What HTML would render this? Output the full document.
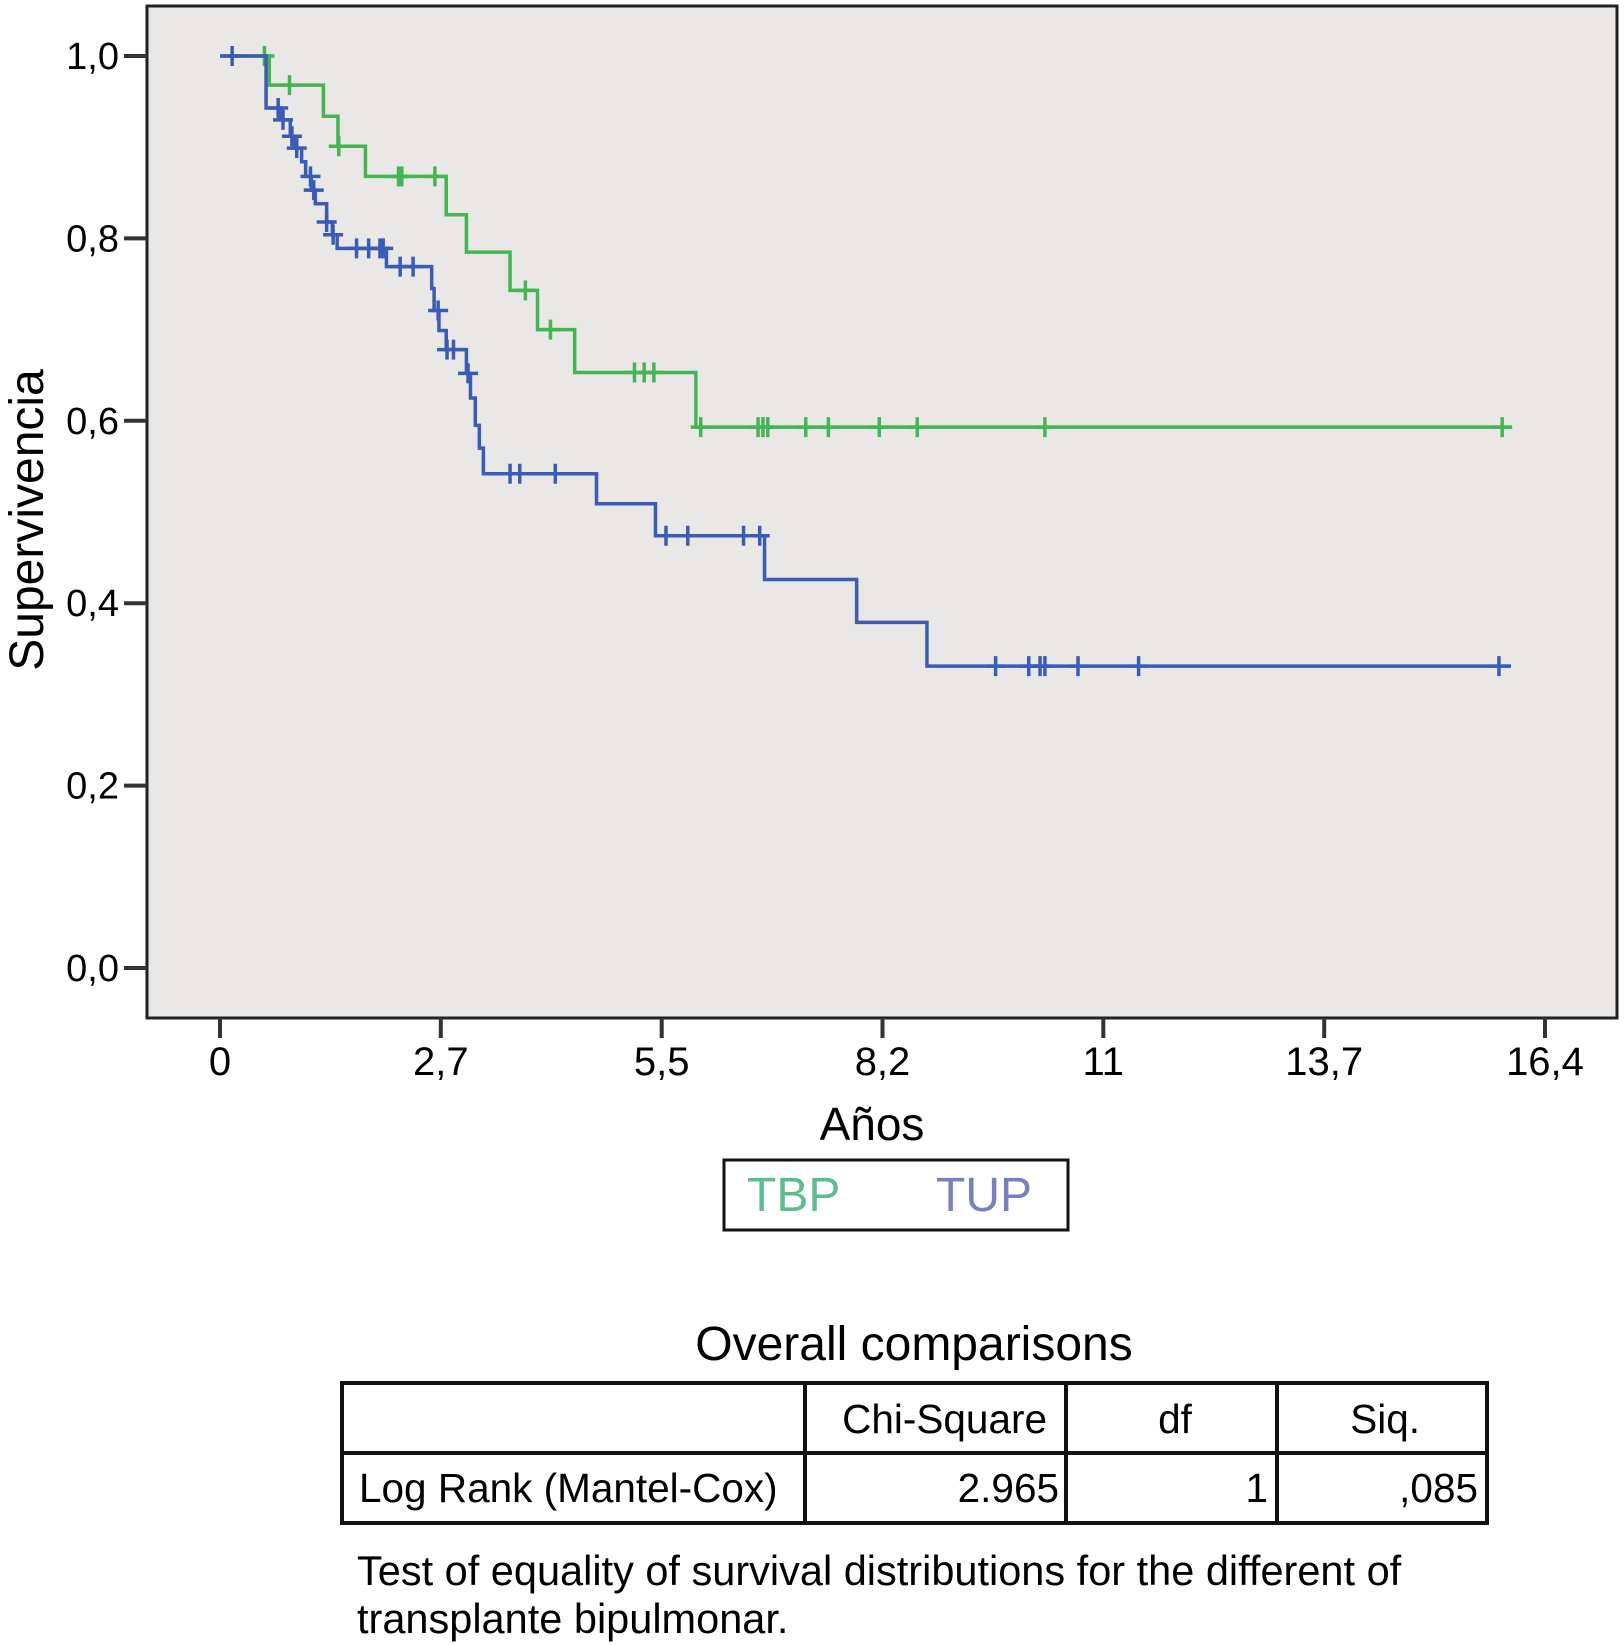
<!DOCTYPE html>
<html><head><meta charset="utf-8"><style>
html,body{margin:0;padding:0;background:#fff;}
svg{display:block;font-family:"Liberation Sans",Arial,sans-serif;}
</style></head><body>
<svg id="chart" width="1624" height="1645" viewBox="0 0 1624 1645">
<rect x="147" y="6" width="1470" height="1012" fill="#e9e8e6" stroke="#222" stroke-width="3"/>
<g id="axes"></g>
<g id="series"></g>
<text x="43" y="520" font-size="48" text-anchor="middle" transform="rotate(-90 43 520)" fill="#000">Supervivencia</text>
<text x="872" y="1140" font-size="46" text-anchor="middle" fill="#000">Años</text>
<rect x="724" y="1160" width="344" height="70" fill="#fff" stroke="#111" stroke-width="3"/>
<text x="747" y="1211" font-size="48" fill="#5dbd8f">TBP</text>
<text x="936" y="1211" font-size="48" fill="#7a80bb">TUP</text>
<text x="914" y="1360" font-size="48" text-anchor="middle" fill="#000">Overall comparisons</text>
<g stroke="#111" stroke-width="4" fill="none">
<rect x="342" y="1383" width="1145" height="140"/>
<line x1="342" y1="1453" x2="1487" y2="1453"/>
<line x1="805" y1="1383" x2="805" y2="1523"/>
<line x1="1066" y1="1383" x2="1066" y2="1523"/>
<line x1="1277" y1="1383" x2="1277" y2="1523"/>
</g>
<g font-size="40.5" fill="#000">
<text x="1047" y="1433" text-anchor="end">Chi-Square</text>
<text x="1175" y="1433" text-anchor="middle">df</text>
<text x="1420" y="1433" text-anchor="end">Siq.</text>
<text x="359" y="1502">Log Rank (Mantel-Cox)</text>
<text x="1059" y="1502" text-anchor="end">2.965</text>
<text x="1268" y="1502" text-anchor="end">1</text>
<text x="1478" y="1502" text-anchor="end">,085</text>
</g>
<g font-size="41.5" fill="#000">
<text x="357" y="1585">Test of equality of survival distributions for the different of</text>
<text x="357" y="1633">transplante bipulmonar.</text>
</g>
</svg>
<script>
const xTicks = [0, 2.733, 5.467, 8.2, 10.933, 13.667, 16.4];
const xTickLabels = ["0", "2,7", "5,5", "8,2", "11", "13,7", "16,4"];
const yTicks = [0, 0.2, 0.4, 0.6, 0.8, 1.0];
const yTickLabels = ["0,0", "0,2", "0,4", "0,6", "0,8", "1,0"];
const tbpTimes = [0, 0.61, 1.28, 1.46, 1.80, 2.80, 3.05, 3.59, 3.93, 4.39, 5.89];
const tbpSurv = [1, 0.968, 0.934, 0.901, 0.868, 0.826, 0.785, 0.743, 0.700, 0.653, 0.593];
const tbpEnd = 15.99;
const tbpCensor = [0.55, 0.86, 1.47, 2.21, 2.25, 2.66, 3.78, 4.09, 5.13, 5.25, 5.37, 5.95, 6.66, 6.72, 6.78, 7.25, 7.53, 8.16, 8.63, 10.21, 15.87];
const tupTimes = [0, 0.57, 0.75, 0.87, 0.92, 1.01, 1.06, 1.13, 1.18, 1.32, 1.39, 1.45, 2.06, 2.62, 2.65, 2.71, 2.80, 3.05, 3.10, 3.16, 3.21, 3.26, 4.66, 5.39, 6.74, 7.88, 8.75];
const tupSurv = [1, 0.943, 0.930, 0.912, 0.899, 0.884, 0.868, 0.853, 0.838, 0.818, 0.804, 0.789, 0.769, 0.745, 0.721, 0.699, 0.678, 0.652, 0.625, 0.595, 0.570, 0.542, 0.509, 0.474, 0.426, 0.379, 0.331];
const tupEnd = 15.98;
const tupCensor = [0.15, 0.72, 0.78, 0.89, 0.95, 1.12, 1.16, 1.32, 1.40, 1.69, 1.84, 1.98, 2.02, 2.23, 2.39, 2.70, 2.81, 2.89, 3.07, 3.59, 3.71, 4.15, 5.52, 5.79, 6.48, 6.68, 9.60, 10.01, 10.15, 10.21, 10.62, 11.37, 15.83];

const NS = "http://www.w3.org/2000/svg";
function xS(t){ return 220 + t * (1325 / 16.4); }
function yS(s){ return 968 - s * 912; }
function mk(tag, attrs, parent){
  const e = document.createElementNS(NS, tag);
  for (const k in attrs) e.setAttribute(k, attrs[k]);
  parent.appendChild(e); return e;
}
const axes = document.getElementById("axes");
xTicks.forEach((v, i) => {
  const l = mk("line", {x1: xS(v), x2: xS(v), y1: 1018, y2: 1038, stroke: "#333", "stroke-width": 4}, axes);
  
  
  const t = mk("text", {x: xS(v), y: 1075, "font-size": 40, "text-anchor": "middle", fill: "#000"}, axes);
  t.textContent = xTickLabels[i];
  
  
});
yTicks.forEach((v, i) => {
  const l = mk("line", {x1: 124, x2: 147, y1: yS(v), y2: yS(v), stroke: "#333", "stroke-width": 4}, axes);
  
  
  const t = mk("text", {x: 119, y: yS(v) + 13, "font-size": 38, "text-anchor": "end", fill: "#000"}, axes);
  t.textContent = yTickLabels[i];
  
  
});
const series = document.getElementById("series");
function survAt(times, surv, t){
  let s = surv[0];
  for (let i = 0; i < times.length; i++) if (times[i] <= t) s = surv[i];
  return s;
}
function drawCurve(times, surv, end, censor, color, name){
  let d = "M" + xS(times[0]) + "," + yS(surv[0]);
  for (let i = 1; i < times.length; i++) {
    d += " H" + xS(times[i]) + " V" + yS(surv[i]);
  }
  d += " H" + xS(end);
  const p = mk("path", {d: d, fill: "none", stroke: color, "stroke-width": 3.5, "stroke-linejoin": "miter"}, series);
  
  
  censor.forEach(c => {
    const x = xS(c), y = yS(survAt(times, surv, c));
    const m = mk("path", {d: "M" + (x - 10) + "," + y + " H" + (x + 10) + " M" + x + "," + (y - 10) + " V" + (y + 10), stroke: color, "stroke-width": 3.5, fill: "none"}, series);
    
    
  });
}
drawCurve(tbpTimes, tbpSurv, tbpEnd, tbpCensor, "#45b455", "tbp");
drawCurve(tupTimes, tupSurv, tupEnd, tupCensor, "#3a5cb4", "tup");
</script>
</body></html>
